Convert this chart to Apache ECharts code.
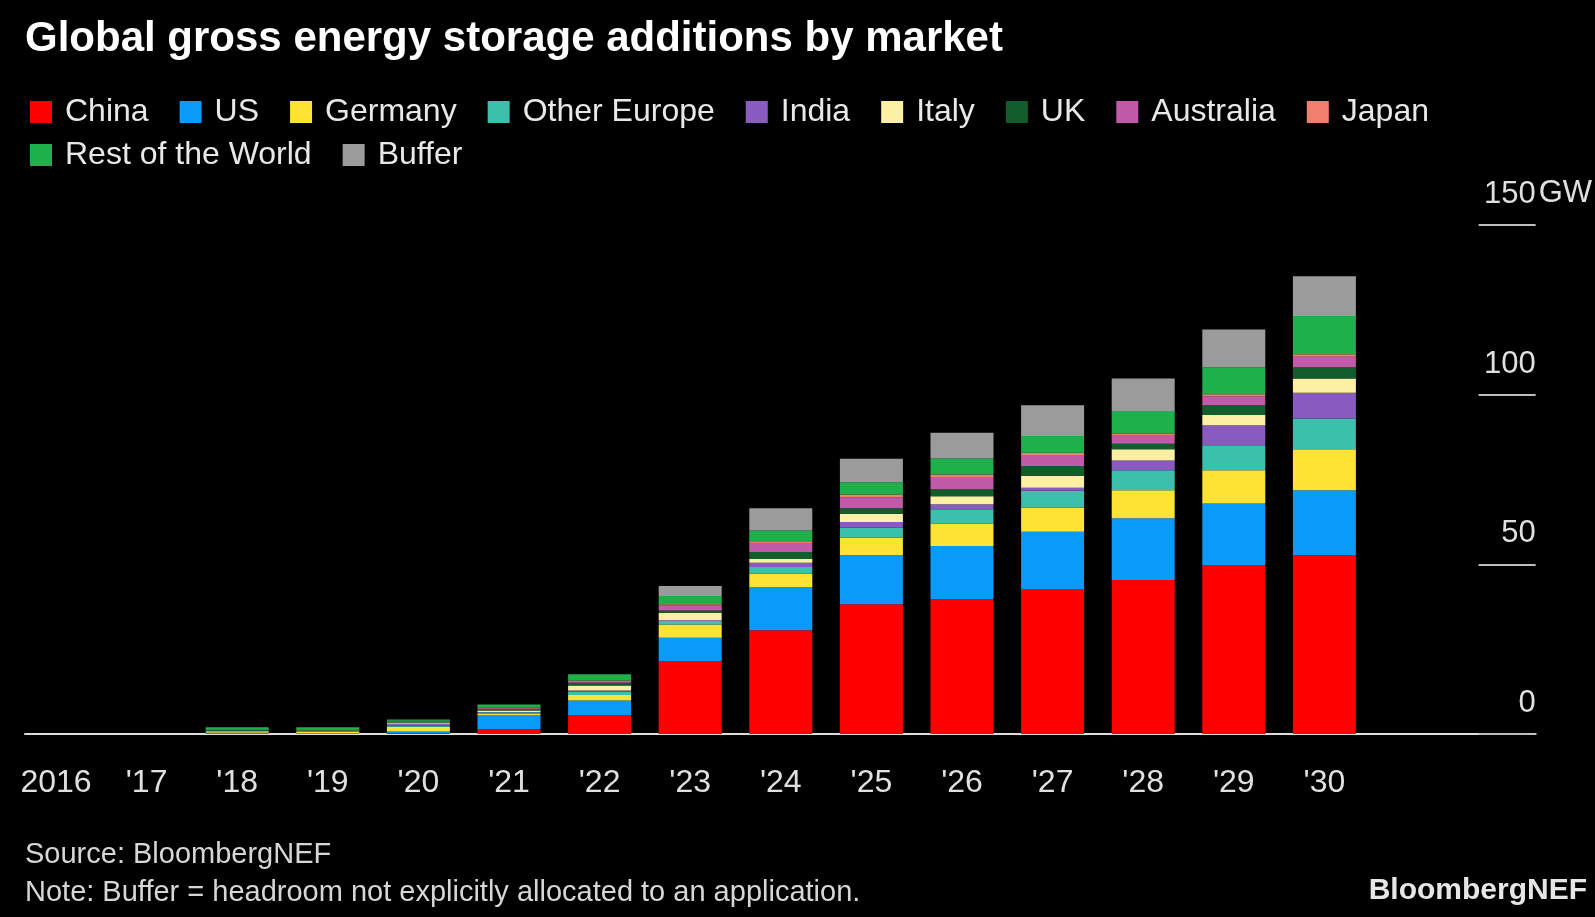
<!DOCTYPE html>
<html>
<head>
<meta charset="utf-8">
<title>Global gross energy storage additions by market</title>
<script src="https://cdn.jsdelivr.net/npm/echarts@6/dist/echarts.min.js"></script>
<style>
  html, body { margin: 0; padding: 0; background: #000; }
  #chart { width: 1595px; height: 917px; }
</style>
</head>
<body>
<div id="chart"></div>
<script>
// years on the axis, last slot is an empty year that only gets a tick
const years = ['2016', "'17", "'18", "'19", "'20", "'21", "'22", "'23", "'24", "'25", "'26", "'27", "'28", "'29", "'30", ''];

// GW
const china       = [0, 0, 0.2, 0.1, 0.3, 1.4, 5.6, 21.5, 30.6, 38.2, 39.7, 42.7, 45.4, 49.8, 52.7, null];
const us          = [0, 0, 0.2, 0.2, 0.4, 4.2, 4.3, 6.9, 12.7, 14.5, 15.7, 16.9, 18.2, 18.1, 19.1, null];
const germany     = [0, 0, 0.4, 0.4, 1.4, 0.4, 1.6, 3.9, 3.9, 5.1, 6.6, 7.1, 8.2, 9.8, 12.1, null];
const otherEurope = [0, 0, 0.2, 0.1, 0.3, 0.4, 1.0, 1.0, 2.0, 3.0, 4.2, 5.0, 5.9, 7.4, 9.1, null];
const india       = [0, 0, 0, 0.1, 0.6, 0.1, 0.3, 0.2, 1.3, 1.7, 1.5, 0.9, 2.9, 5.9, 7.6, null];
const italy       = [0, 0, 0, 0.1, 0.4, 0.4, 1.5, 2.2, 1.1, 2.4, 2.4, 3.4, 3.3, 3.0, 4.2, null];
const uk          = [0, 0, 0.2, 0.2, 0.2, 0.3, 0.8, 0.7, 2.0, 1.6, 2.0, 3.0, 1.6, 2.9, 3.3, null];
const australia   = [0, 0, 0.2, 0.2, 0.2, 0.3, 0.5, 1.5, 2.5, 3.3, 3.6, 3.2, 2.4, 2.6, 3.1, null];
const japan       = [0, 0, 0.1, 0.1, 0.1, 0.2, 0.2, 0.3, 0.5, 0.8, 0.8, 0.7, 0.6, 0.6, 0.7, null];
const restOfWorld = [0, 0, 0.5, 0.5, 0.4, 1.0, 1.8, 2.5, 3.4, 3.6, 4.7, 4.9, 6.5, 8.0, 11.3, null];
const buffer      = [0, 0, 0, 0, 0, 0, 0, 2.9, 6.5, 6.9, 7.6, 9.1, 9.8, 11.1, 11.7, null];

const yTicks = [0, 50, 100, 150];

const markets = [
  { name: 'China', color: '#ff0000', data: china },
  { name: 'US', color: '#0a9af7', data: us },
  { name: 'Germany', color: '#fde334', data: germany },
  { name: 'Other Europe', color: '#3dbfae', data: otherEurope },
  { name: 'India', color: '#8a5bbf', data: india },
  { name: 'Italy', color: '#fdf0a4', data: italy },
  { name: 'UK', color: '#125d2b', data: uk },
  { name: 'Australia', color: '#c05aa9', data: australia },
  { name: 'Japan', color: '#f27f6e', data: japan },
  { name: 'Rest of the World', color: '#1fb04c', data: restOfWorld },
  { name: 'Buffer', color: '#9b9b9b', data: buffer }
];

const font = "'Liberation Sans', Arial, sans-serif";
const chart = echarts.init(document.getElementById('chart'));

const legendBase = {
  left: 25,
  icon: 'rect',
  itemWidth: 22,
  itemHeight: 22,
  itemGap: 31,
  selectedMode: false,
  textStyle: { color: '#e8e8e8', fontSize: 32, fontFamily: font, lineHeight: 32, padding: [0, 0, 0, 8] }
};

chart.setOption({
  backgroundColor: '#000',
  animation: false,
  textStyle: { fontFamily: font },
  title: [
    {
      text: 'Global gross energy storage additions by market',
      left: 20, top: 11,
      textStyle: { color: '#fff', fontSize: 42, fontWeight: 'bold', fontFamily: font, lineHeight: 46 }
    },
    {
      text: 'Source: BloombergNEF\nNote: Buffer = headroom not explicitly allocated to an application.',
      left: 20, top: 831,
      textStyle: { color: '#d6d6d6', fontSize: 29, fontWeight: 'normal', fontFamily: font, lineHeight: 38 }
    },
    {
      text: 'BloombergNEF',
      right: 3, top: 869,
      textStyle: { color: '#e6e6e6', fontSize: 30, fontWeight: 'bold', fontFamily: font, lineHeight: 34 }
    }
  ],
  legend: [
    Object.assign({}, legendBase, { top: 91, data: markets.slice(0, 9).map(m => m.name) }),
    Object.assign({}, legendBase, { top: 134, data: markets.slice(9).map(m => m.name) })
  ],
  grid: [
    // bars: band layout matches the year spacing
    { left: 10.7, right: 134.7, top: 225, bottom: 183 },
    // frame for the baseline and the right-hand value scale
    { left: 25, right: 57, top: 225, bottom: 183 }
  ],
  xAxis: [
    {
      type: 'category',
      gridIndex: 0,
      data: years,
      axisLine: { show: false },
      axisTick: { alignWithLabel: true, length: 14, lineStyle: { color: '#bdbdbd', width: 2 } },
      axisLabel: { interval: 0, color: '#e0e0e0', fontSize: 32, fontFamily: font, margin: 33, lineHeight: 32 }
    },
    {
      type: 'value',
      gridIndex: 1,
      min: 0, max: 1,
      axisLine: { show: true, onZero: false, lineStyle: { color: '#dcdcdc', width: 2 } },
      axisTick: { show: false },
      axisLabel: { show: false },
      splitLine: { show: false }
    }
  ],
  yAxis: [
    { type: 'value', gridIndex: 0, min: 0, max: 150, show: false },
    {
      type: 'value',
      gridIndex: 1,
      position: 'right',
      min: yTicks[0], max: yTicks[yTicks.length - 1], interval: 50,
      name: 'GW',
      nameLocation: 'end',
      nameGap: 16,
      nameMoveOverlap: false,
      nameTextStyle: { color: '#e0e0e0', fontSize: 31, fontFamily: font, align: 'left', verticalAlign: 'bottom', lineHeight: 31, padding: [0, 0, 0, 3] },
      axisLine: { show: false, onZero: false },
      axisTick: { show: true, inside: true, length: 57, lineStyle: { color: '#bdbdbd', width: 2 } },
      splitLine: { show: false },
      axisLabel: {
        inside: true,
        margin: 0,
        color: '#e0e0e0',
        fontSize: 31,
        fontFamily: font,
        align: 'right',
        verticalAlign: 'bottom',
        lineHeight: 31,
        padding: [0, 0, 15, 0],
        formatter: v => String(v)
      }
    }
  ],
  series: markets.map(m => ({
    name: m.name,
    type: 'bar',
    stack: 'total',
    xAxisIndex: 0,
    yAxisIndex: 0,
    barWidth: 63,
    itemStyle: { color: m.color },
    data: m.data
  }))
});
</script>
</body>
</html>
